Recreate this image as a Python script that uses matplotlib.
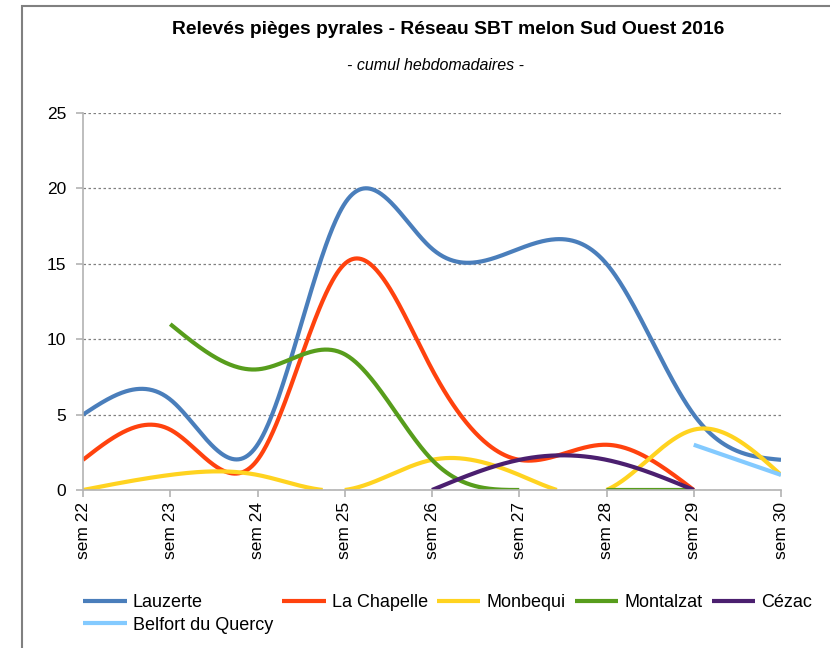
import matplotlib
matplotlib.use('Agg')
matplotlib.rcParams.update({'font.family': ['Liberation Sans', 'DejaVu Sans'], 'font.size': 12.5})

from matplotlib import pyplot as plt
from matplotlib.patches import Rectangle
import numpy as np

nan = np.nan

weeks = ['sem 22', 'sem 23', 'sem 24', 'sem 25', 'sem 26', 'sem 27', 'sem 28', 'sem 29', 'sem 30']

lauzerte    = [5, 6, 3, 19, 16, 16, 15, 5, 2]
la_chapelle = [2, 4, 2, 15, 8, 2, 3, 0, nan]
monbequi    = [0, 1, 1, 0, 2, 1, 0, 4, 1]
montalzat   = [nan, 11, 8, 9, 2, 0, 0, 0, nan]
cezac       = [nan, nan, nan, nan, 0, 2, 2, 0, nan]
belfort     = [nan, nan, nan, nan, nan, nan, nan, 3, 1]

series = [('Lauzerte', lauzerte, '#4a7ebb'),
          ('La Chapelle', la_chapelle, '#ff420e'),
          ('Monbequi', monbequi, '#ffd320'),
          ('Montalzat', montalzat, '#579d1c'),
          ('Cézac', cezac, '#4b1f6f'),
          ('Belfort du Quercy', belfort, '#83caff')]


def natural_spline(x, y, n=80):
    # plain natural cubic spline, enough for a smooth line like the calc chart
    x = np.asarray(x, float)
    y = np.asarray(y, float)
    k = len(x)
    if k < 3:
        xs = np.linspace(x[0], x[-1], n)
        return xs, np.interp(xs, x, y)
    h = np.diff(x)
    A = np.zeros((k, k))
    b = np.zeros(k)
    A[0, 0] = A[-1, -1] = 1
    for i in range(1, k - 1):
        A[i, i - 1] = h[i - 1]
        A[i, i] = 2 * (h[i - 1] + h[i])
        A[i, i + 1] = h[i]
        b[i] = 6 * ((y[i + 1] - y[i]) / h[i] - (y[i] - y[i - 1]) / h[i - 1])
    M = np.linalg.solve(A, b)
    xs, ys = [], []
    for i in range(k - 1):
        t = np.linspace(x[i], x[i + 1], n)
        a = x[i + 1] - t
        c = t - x[i]
        s = (M[i] * a**3 + M[i + 1] * c**3) / (6 * h[i]) \
            + (y[i] / h[i] - M[i] * h[i] / 6) * a \
            + (y[i + 1] / h[i] - M[i + 1] * h[i] / 6) * c
        xs.append(t)
        ys.append(s)
    return np.concatenate(xs), np.concatenate(ys)


fig = plt.figure(figsize=(8.3, 6.48), dpi=100)
ax = fig.add_axes([83/830, 1 - 490/648, (781 - 83)/830, (490 - 113)/648])

pos = np.arange(len(weeks))
lines = {}
for name, vals, col in series:
    v = np.array(vals, float)
    ok = ~np.isnan(v)
    xs, ys = natural_spline(pos[ok], v[ok])
    # the calc chart cuts the curve where it goes under the axis
    ys = np.where(ys < -1e-6, nan, ys)
    lines[name], = ax.plot(xs, ys, color=col, lw=3, label=name, solid_capstyle='butt')

ax.set_xlim(0, len(weeks) - 1)
ax.set_ylim(0, 25)
ax.set_yticks(range(0, 26, 5))
ax.set_xticks(pos)
ax.set_xticklabels(weeks, rotation=90)
ax.yaxis.grid(True, linestyle=(0, (2, 2)), color='#808080', lw=0.9)
ax.set_axisbelow(True)
for s in ['top', 'right']:
    ax.spines[s].set_visible(False)
for s in ['left', 'bottom']:
    ax.spines[s].set_color('#b3b3b3')
    ax.spines[s].set_linewidth(1.2)
ax.tick_params(axis='both', color='#b3b3b3', width=1.2, length=5)
ax.tick_params(axis='y', pad=7)

fig.text(448/830, 1 - 30/648, 'Relevés pièges pyrales - Réseau SBT melon Sud Ouest 2016',
         ha='center', va='center', fontsize=13.9, fontweight='bold')
fig.text(435/830, 1 - 65/648, '- cumul hebdomadaires -', ha='center', va='center',
         fontsize=11.5, style='italic')

# row-major order for a 5-column legend
order = ['Lauzerte', 'Belfort du Quercy', 'La Chapelle', 'Monbequi', 'Montalzat', 'Cézac']
fig.legend([lines[n] for n in order], order, loc='upper left',
           bbox_to_anchor=(67/830, 1 - 578/648), ncol=5, frameon=False,
           handlelength=2.4, handletextpad=0.35, columnspacing=0.5, labelspacing=0.3,
           fontsize=13)

fig.patches.append(Rectangle((22/830, -0.1), 1.2, 1.1 - 6/648, transform=fig.transFigure,
                             fill=False, edgecolor='#808080', lw=1.5))

plt.savefig('out.png')
